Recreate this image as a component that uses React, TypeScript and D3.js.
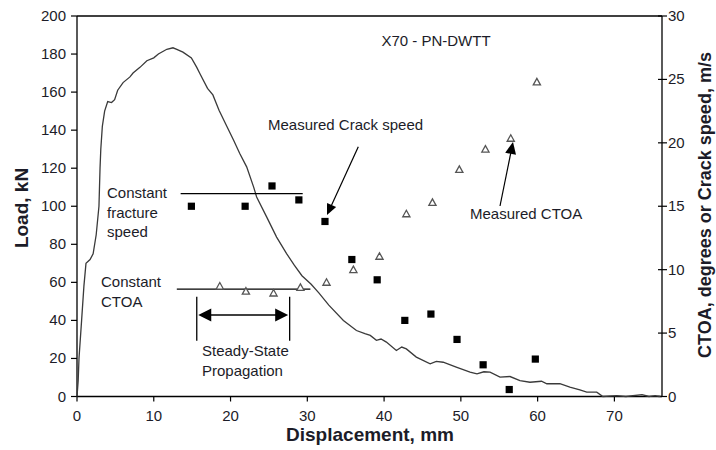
import React from "react";
import * as d3 from "d3";

const loadCurve: [number, number][] = [
  [0, 0], [0.15, 8], [0.26, 20], [0.6, 40], [0.9, 58], [1.17, 70], [1.7, 72], [2.1, 75],
  [2.5, 85], [2.86, 100], [3.0, 120], [3.1, 130], [3.3, 142], [3.6, 150], [4.0, 155],
  [4.5, 154.5], [4.9, 156], [5.3, 161], [6.0, 165], [6.9, 168], [7.3, 170], [8.2, 173],
  [9.1, 176.5], [10.0, 178], [10.6, 180], [11.7, 182.5], [12.5, 183.3], [13.0, 182.5],
  [13.8, 181], [14.9, 178], [15.6, 173], [16.0, 169.8], [17.0, 162], [17.7, 158.5],
  [18.5, 150.5], [19.4, 143], [20.4, 134.7], [21.2, 127.7], [22.1, 120.7], [23.0, 110.2],
  [23.4, 104.9], [24.7, 94.4], [26.0, 83.8], [27.3, 75.1], [28.3, 69], [29.3, 63.5],
  [30.5, 59], [31.5, 54.5], [32.8, 48], [34.7, 40], [36.4, 34.7], [37.5, 33], [38.2, 32.1],
  [39.0, 29.5], [39.6, 30.2], [40.3, 28.6], [41.6, 24.2], [42.3, 26], [42.9, 25],
  [44.2, 20.7], [46.0, 17.2], [46.8, 18.5], [47.7, 18], [49.4, 15.4], [51.2, 12.8],
  [52.1, 11.9], [53.0, 13], [53.8, 12.8], [55.1, 10.2], [56.4, 10.5], [57.7, 8.4],
  [59.0, 7.5], [60.5, 8], [61.2, 6.7], [62.9, 6.7], [64.2, 4.9], [65.5, 3.5], [66.4, 2.3],
  [67.7, 2.3], [68.5, 0], [70.3, 0.5], [71.5, 0], [73.6, 1], [74.5, 0], [75.3, 0.5], [76, 0],
];

const crackSpeed: [number, number][] = [
  [14.9, 15.0], [21.9, 15.0], [25.4, 16.6], [28.9, 15.5], [32.3, 13.8], [35.8, 10.8],
  [39.1, 9.2], [42.7, 6.0], [46.1, 6.5], [49.5, 4.5], [52.9, 2.5], [56.3, 0.55], [59.7, 2.95],
];

const ctoa: [number, number][] = [
  [18.6, 8.7], [22.0, 8.3], [25.6, 8.15], [29.1, 8.6], [32.5, 9.0], [36.0, 10.0],
  [39.4, 11.05], [42.9, 14.4], [46.3, 15.3], [49.8, 17.9], [53.2, 19.5], [56.5, 20.35],
  [59.9, 24.8],
];

const xTicks = [0, 10, 20, 30, 40, 50, 60, 70];
const loadTicks = [0, 20, 40, 60, 80, 100, 120, 140, 160, 180, 200];
const rightTicks = [0, 5, 10, 15, 20, 25, 30];

// annotation lines in data units (right axis)
const speedLine = { x0: 13.5, x1: 29.4, v: 16.0 };
const ctoaLine = { x0: 13.0, x1: 30.4, v: 8.47 };
const steady = { x0: 15.6, x1: 27.7 };

const FONT = "'Liberation Sans', Arial, Helvetica, sans-serif";
const TXT = "#1c1c28";

export default function App() {
  const left = 77, right = 662, top = 16, bottom = 396.5;
  const x = d3.scaleLinear().domain([0, 76.2]).range([left, right]);
  const yL = d3.scaleLinear().domain([0, 200]).range([bottom, top]);
  const yR = d3.scaleLinear().domain([0, 30]).range([bottom, top]);

  const line = d3.line<[number, number]>().x((d) => x(d[0])).y((d) => yL(d[1]));

  const arrowHead = (tx: number, ty: number, fx: number, fy: number, len: number, hw: number) => {
    const dx = tx - fx, dy = ty - fy;
    const L = Math.hypot(dx, dy);
    const ux = dx / L, uy = dy / L;
    const bx = tx - ux * len, by = ty - uy * len;
    const px = -uy * hw, py = ux * hw;
    return `M${tx},${ty}L${bx + px},${by + py}L${bx - px},${by - py}Z`;
  };

  const tri = (cx: number, cy: number) => {
    const s = 3.6;
    return `M${cx},${cy - s}L${cx + s},${cy + s * 0.8}L${cx - s},${cy + s * 0.8}Z`;
  };

  // arrow endpoints
  const cs = { fx: 358.3, fy: 146.7, tx: 327, ty: 215 };
  const ct = { fx: 500, fy: 206, tx: 513, ty: 142 };

  const sy = 315;
  const sxa = x(steady.x0), sxb = x(steady.x1);

  return (
    <svg width={716} height={450} style={{ position: "absolute", left: 0, top: 0, background: "#fff" }}
      fontFamily={FONT}>
      {/* frame */}
      <line x1={left} x2={right} y1={top} y2={top} stroke="#000" strokeWidth={1.3} />
      <line x1={left} x2={left} y1={top} y2={bottom} stroke="#000" strokeWidth={1.3} />
      <line x1={right} x2={right} y1={top} y2={bottom} stroke="#000" strokeWidth={1.3} />
      <line x1={left} x2={right} y1={bottom} y2={bottom} stroke="#000" strokeWidth={1.3} />

      {/* left ticks */}
      {loadTicks.map((t) => (
        <g key={"l" + t}>
          <line x1={left - 6} x2={left} y1={yL(t)} y2={yL(t)} stroke="#000" strokeWidth={1.2} />
          <text x={left - 11} y={yL(t) + 5} textAnchor="end" fontSize={15} fill={TXT}>{t}</text>
        </g>
      ))}
      {/* bottom ticks */}
      {xTicks.map((t) => (
        <g key={"x" + t}>
          <line x1={x(t)} x2={x(t)} y1={bottom} y2={bottom + 5} stroke="#000" strokeWidth={1.2} />
          <text x={x(t)} y={bottom + 24} textAnchor="middle" fontSize={15} fill={TXT}>{t}</text>
        </g>
      ))}
      {/* right ticks */}
      {rightTicks.map((t) => (
        <g key={"r" + t}>
          <line x1={right - 4} x2={right + 5} y1={yR(t)} y2={yR(t)} stroke="#000" strokeWidth={1.2} />
          <text x={right + 6} y={yR(t) + 5} textAnchor="start" fontSize={15} fill={TXT}>{t}</text>
        </g>
      ))}

      {/* axis titles */}
      <text x={370} y={441} textAnchor="middle" fontSize={19} fontWeight="bold" fill={TXT}>Displacement, mm</text>
      <text transform={`translate(28,208) rotate(-90)`} textAnchor="middle" fontSize={19} fontWeight="bold" fill={TXT}>Load, kN</text>
      <text transform={`translate(711,205) rotate(-90)`} textAnchor="middle" fontSize={18} fontWeight="bold" fill={TXT}>CTOA, degrees or Crack speed, m/s</text>

      {/* title */}
      <text x={436} y={46} textAnchor="middle" fontSize={15} fill={TXT}>X70 - PN-DWTT</text>

      {/* load curve */}
      <path d={line(loadCurve) || ""} fill="none" stroke="#3a3a3a" strokeWidth={1.3} />

      {/* annotation lines */}
      <line x1={x(speedLine.x0)} x2={x(speedLine.x1)} y1={yR(speedLine.v)} y2={yR(speedLine.v)} stroke="#000" strokeWidth={1.3} />
      <line x1={x(ctoaLine.x0)} x2={x(ctoaLine.x1)} y1={yR(ctoaLine.v)} y2={yR(ctoaLine.v)} stroke="#000" strokeWidth={1.3} />

      {/* steady state */}
      <line x1={sxa} x2={sxa} y1={296.7} y2={340.7} stroke="#000" strokeWidth={1.3} />
      <line x1={sxb} x2={sxb} y1={296.7} y2={340.7} stroke="#000" strokeWidth={1.3} />
      <line x1={sxa + 10} x2={sxb - 10} y1={sy} y2={sy} stroke="#000" strokeWidth={1.3} />
      <path d={arrowHead(sxa + 1.5, sy, sxb, sy, 13, 6.5)} fill="#000" />
      <path d={arrowHead(sxb - 1.5, sy, sxa, sy, 13, 6.5)} fill="#000" />

      {/* markers */}
      {crackSpeed.map((d, i) => (
        <rect key={"s" + i} x={x(d[0]) - 3.6} y={yR(d[1]) - 3.6} width={7.2} height={7.2} fill="#000" />
      ))}
      {ctoa.map((d, i) => (
        <path key={"t" + i} d={tri(x(d[0]), yR(d[1]))} fill="#fff" stroke="#555" strokeWidth={1.3} />
      ))}

      {/* arrows to measured data */}
      <line x1={cs.fx} y1={cs.fy} x2={cs.tx + (cs.fx - cs.tx) * 0.1} y2={cs.ty + (cs.fy - cs.ty) * 0.1} stroke="#000" strokeWidth={1.2} />
      <path d={arrowHead(cs.tx, cs.ty, cs.fx, cs.fy, 11, 5)} fill="#000" />
      <line x1={ct.fx} y1={ct.fy} x2={ct.tx + (ct.fx - ct.tx) * 0.1} y2={ct.ty + (ct.fy - ct.ty) * 0.1} stroke="#000" strokeWidth={1.2} />
      <path d={arrowHead(ct.tx, ct.ty, ct.fx, ct.fy, 12, 5.5)} fill="#000" />

      {/* annotation text */}
      <text x={268} y={130} fontSize={15} fill={TXT}>Measured Crack speed</text>
      <text x={470} y={219} fontSize={15} fill={TXT}>Measured CTOA</text>
      <text x={107} y={198} fontSize={15} fill={TXT}>
        <tspan x={107} dy={0}>Constant</tspan>
        <tspan x={107} dy={19.5}>fracture</tspan>
        <tspan x={107} dy={19.5}>speed</tspan>
      </text>
      <text x={101} y={287} fontSize={15} fill={TXT}>
        <tspan x={101} dy={0}>Constant</tspan>
        <tspan x={101} dy={19.5}>CTOA</tspan>
      </text>
      <text x={202} y={356} fontSize={15} fill={TXT}>
        <tspan x={202} dy={0}>Steady-State</tspan>
        <tspan x={202} dy={19.5}>Propagation</tspan>
      </text>
    </svg>
  );
}
